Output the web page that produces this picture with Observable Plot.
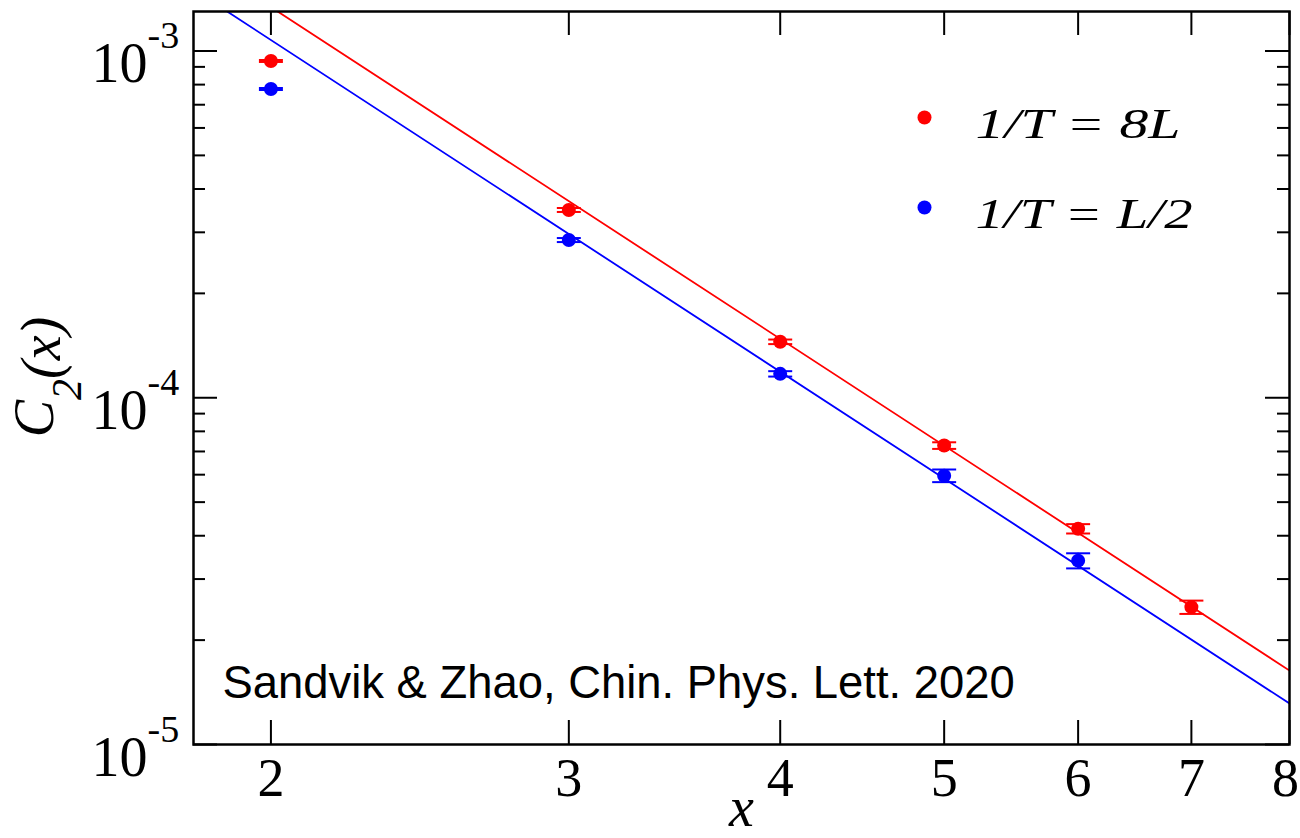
<!DOCTYPE html>
<html>
<head>
<meta charset="utf-8">
<script src="https://cdn.jsdelivr.net/npm/d3@7"></script>
<script src="https://cdn.jsdelivr.net/npm/@observablehq/plot@0.6"></script>
<style>
  body { margin: 0; background: #fff; }
  #chart { width: 1300px; height: 838px; overflow: hidden; }
</style>
</head>
<body>
<div id="chart"></div>
<script>
// ---- data ----
const xRed = [2, 3, 4, 5, 6, 7];
const yRed = [9.36e-4, 3.48e-4, 1.45e-4, 7.28e-5, 4.19e-5, 2.49e-5];
const errRed = [6.2e-6, 4.6e-6, 2.2e-6, 1.6e-6, 1.3e-6, 1.1e-6];

const xBlue = [2, 3, 4, 5, 6];
const yBlue = [7.77e-4, 2.85e-4, 1.172e-4, 5.96e-5, 3.39e-5];
const errBlue = [5.2e-6, 3.8e-6, 2.1e-6, 2.5e-6, 1.7e-6];

// fitted power-law lines (end points)
const fitX = [1.8, 8];
const fitRed = [1.871e-3, 1.634e-5];
const fitBlue = [1.504e-3, 1.313e-5];

const seriesNames = ["1/T = 8L", "1/T = L/2"];
const seriesColors = ["#ff0000", "#0000ff"];

const xTicks = [2, 3, 4, 5, 6, 7, 8];
const yMajor = [1e-5, 1e-4, 1e-3];
const yExponents = ["-5", "-4", "-3"];
const yMinor = [2e-5, 3e-5, 4e-5, 5e-5, 6e-5, 7e-5, 8e-5, 9e-5,
                2e-4, 3e-4, 4e-4, 5e-4, 6e-4, 7e-4, 8e-4, 9e-4];

const xLabel = "x";
const yLabelParts = ["C", "2", "(x)"];
const caption = "Sandvik & Zhao, Chin. Phys. Lett. 2020";

// ---- tables built from the arrays ----
const points = [
  ...xRed.map((x, i) => ({x, y: yRed[i], err: errRed[i], s: 0})),
  ...xBlue.map((x, i) => ({x, y: yBlue[i], err: errBlue[i], s: 1}))
];
const fits = [
  ...fitX.map((x, i) => ({x, y: fitRed[i], s: 0})),
  ...fitX.map((x, i) => ({x, y: fitBlue[i], s: 1}))
];

const W = 1300, H = 838;
const mL = 193, mR = 11, mT = 11, mB = 94;
const innerW = W - mL - mR, innerH = H - mT - mB;

const capSymbol = {draw(ctx) { ctx.moveTo(-12, 0); ctx.lineTo(12, 0); }};

const colorOf = d => seriesColors[d.s];
const lastTick = xTicks[xTicks.length - 1];

const marks = [
  // fitted lines
  Plot.line(fits, {x: "x", y: "y", z: "s", stroke: colorOf, strokeWidth: 1.8, clip: true}),
  // error bars
  Plot.ruleX(points, {x: "x", y1: d => d.y - d.err, y2: d => d.y + d.err, stroke: colorOf, strokeWidth: 2}),
  Plot.dot(points, {x: "x", y: d => d.y + d.err, symbol: capSymbol, stroke: colorOf, strokeWidth: 2, fill: "none"}),
  Plot.dot(points, {x: "x", y: d => d.y - d.err, symbol: capSymbol, stroke: colorOf, strokeWidth: 2, fill: "none"}),
  // points
  Plot.dot(points, {x: "x", y: "y", r: 7, fill: colorOf, stroke: null}),
  // ticks (inside the frame)
  Plot.tickX(xTicks, {x: d => d, insetTop: innerH - 24, stroke: "#000", strokeWidth: 2}),
  Plot.tickX(xTicks, {x: d => d, insetBottom: innerH - 24, stroke: "#000", strokeWidth: 2}),
  Plot.tickY(yMajor, {y: d => d, insetRight: innerW - 24, stroke: "#000", strokeWidth: 2}),
  Plot.tickY(yMajor, {y: d => d, insetLeft: innerW - 24, stroke: "#000", strokeWidth: 2}),
  Plot.tickY(yMinor, {y: d => d, insetRight: innerW - 12, stroke: "#000", strokeWidth: 2}),
  Plot.tickY(yMinor, {y: d => d, insetLeft: innerW - 12, stroke: "#000", strokeWidth: 2}),
  Plot.frame({stroke: "#000", strokeWidth: 2.5}),
  // x tick labels (last one nudged so it stays inside the picture)
  Plot.text(xTicks.filter(d => d !== lastTick), {x: d => d, frameAnchor: "bottom", lineAnchor: "bottom", dy: 51,
    text: d => String(d), fontSize: 54, fill: "#000"}),
  Plot.text([lastTick], {x: d => d, frameAnchor: "bottom", lineAnchor: "bottom", dy: 51, dx: -4,
    text: d => String(d), fontSize: 54, fill: "#000"}),
  // y tick labels: 10^k
  Plot.text(yMajor, {y: d => d, frameAnchor: "left", textAnchor: "end", lineAnchor: "bottom",
    dx: -46, dy: 31, text: () => "10", fontSize: 56, fill: "#000"}),
  Plot.text(yMajor, {y: d => d, frameAnchor: "left", textAnchor: "start", lineAnchor: "bottom",
    dx: -46, dy: -3, text: (d, i) => yExponents[i], fontSize: 38, fill: "#000"}),
  // axis labels
  Plot.text([xLabel], {frameAnchor: "bottom", lineAnchor: "bottom", dy: 81, text: d => d,
    fontSize: 56, fontStyle: "italic", fill: "#000"}),
  Plot.text([yLabelParts.join("")], {frameAnchor: "left", rotate: -90, textAnchor: "middle", lineAnchor: "bottom",
    dx: -141, dy: -1, text: d => d, fontSize: 56, fontStyle: "italic", fill: "#000", ariaDescription: "ylabel"}),
  // caption
  Plot.text([caption], {frameAnchor: "bottom-left", textAnchor: "start", lineAnchor: "bottom",
    dx: 29, dy: -47, text: d => d, fontSize: 45.4, fontFamily: "Liberation Sans, Arial, sans-serif", fill: "#000"}),
  // legend
  ...seriesNames.flatMap((name, i) => [
    Plot.dot([name], {frameAnchor: "top-left", dx: 731, dy: 106 + 90 * i, r: 7, fill: seriesColors[i], stroke: null}),
    Plot.text([name], {frameAnchor: "top-left", dx: 782, dy: 126 + 90 * i, textAnchor: "start", lineAnchor: "bottom",
      text: d => d, fontSize: 42, fontStyle: "italic", fill: "#000", ariaDescription: "legendtext" + i})
  ])
];

const svg = Plot.plot({
  width: W, height: H,
  marginLeft: mL, marginRight: mR, marginTop: mT, marginBottom: mB,
  x: {type: "log", domain: [1.8, 8], axis: null},
  y: {type: "log", domain: [1e-5, 1.3e-3], axis: null},
  style: {fontFamily: "'Liberation Serif', 'Times New Roman', serif", background: "#fff", overflow: "visible"},
  marks
});

// subscript in the y label
d3.select(svg).selectAll('g[aria-description="ylabel"] text').each(function () {
  const t = d3.select(this);
  t.text(null);
  t.append("tspan").attr("font-size", 56).text(yLabelParts[0]);
  t.append("tspan").attr("font-size", 42).attr("dy", 28).text(yLabelParts[1]);
  t.append("tspan").attr("font-size", 56).attr("dy", -21).text(yLabelParts[2]);
});
// stretch legend texts to the reference widths
const legendWidths = [205, 217];
legendWidths.forEach((w, i) => {
  d3.select(svg).selectAll(`g[aria-description="legendtext${i}"] text`)
    .attr("textLength", w).attr("lengthAdjust", "spacingAndGlyphs");
});

document.getElementById("chart").appendChild(svg);
</script>
</body>
</html>
